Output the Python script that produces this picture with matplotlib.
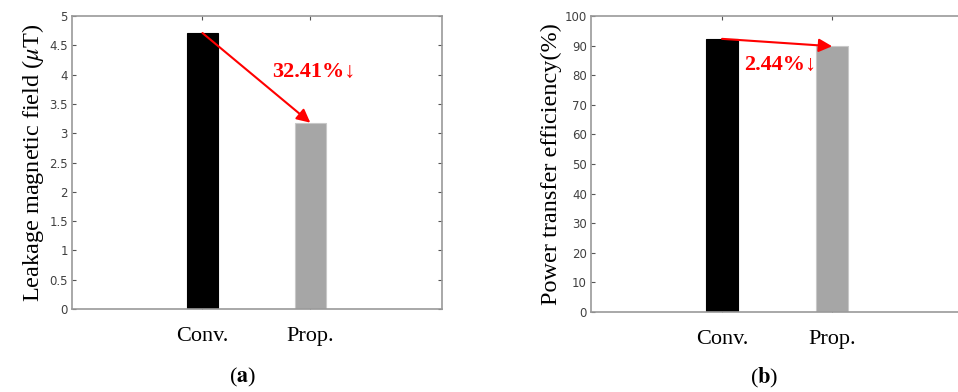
import numpy as np
import matplotlib.pyplot as plt

plt.rcParams['mathtext.fontset'] = 'stix'

cats = ["Conv.", "Prop."]
leak = [4.71, 3.18]          # uT
eff = [92.3, 89.8]           # %
leak_note = "32.41%\u2193"
eff_note = "2.44%\u2193"
bar_colors = ["#000000", "#a6a6a6"]

serif = ['Liberation Serif', 'DejaVu Serif']
spine_c = "#9a9a9a"

fig = plt.figure(figsize=(9.58, 3.92), dpi=100)
ax1 = fig.add_axes([0.0752, 0.2117, 0.386, 0.7474])
ax2 = fig.add_axes([0.617, 0.204, 0.401, 0.755])


def style(ax, ylabel, yticks, ylim, xlim):
    x = np.arange(1, len(cats) + 1)
    ax.set_xlim(xlim)
    ax.set_ylim(ylim)
    ax.set_yticks(yticks)
    ax.set_yticklabels([("%g" % t) for t in yticks])
    ax.set_xticks(x)
    ax.set_xticklabels(cats, fontsize=16, family=serif)
    for s in ax.spines.values():
        s.set_color(spine_c)
        s.set_linewidth(1.2)
    ax.tick_params(axis='y', direction='in', right=True, length=3,
                   color="#555555", labelsize=8.5, labelcolor="#404040", pad=3)
    ax.tick_params(axis='x', direction='in', top=True, length=3,
                   color="#555555", pad=13)
    ax.set_ylabel(ylabel, fontsize=17.5, family=serif, labelpad=2)
    return x


x = style(ax1, r"Leakage magnetic field ($\mu$T)", np.arange(0, 5.01, 0.5),
          (0, 5), (-0.21, 3.22))
ax1.bar(x, leak, width=0.29, color=bar_colors, edgecolor=["#000000", "#c8c8c8"],
        linewidth=0.8, zorder=2)
ax1.annotate("", xy=(x[1], leak[1]), xytext=(x[0], leak[0]),
             arrowprops=dict(arrowstyle="-|>", color="red", lw=1.5,
                             mutation_scale=20, shrinkA=0, shrinkB=0), zorder=3)
ax1.text(1.65, 4.04, leak_note, color="red", fontsize=16, fontweight='bold',
         family=serif, ha='left', va='center')
ax1.text(0.46, -0.235, r"($\mathbf{a}$)", transform=ax1.transAxes, fontsize=16,
         family=serif, ha='center', va='center')

x = style(ax2, "Power transfer efficiency(%)", np.arange(0, 101, 10),
          (0, 100), (-0.19, 3.3))
ax2.bar(x, eff, width=0.29, color=bar_colors, edgecolor=["#000000", "#c8c8c8"],
        linewidth=0.8, zorder=2)
ax2.annotate("", xy=(x[1], eff[1]), xytext=(x[0], eff[0]),
             arrowprops=dict(arrowstyle="-|>", color="red", lw=1.5,
                             mutation_scale=20, shrinkA=0, shrinkB=0), zorder=3)
ax2.text(1.2, 83.5, eff_note, color="red", fontsize=16, fontweight='bold',
         family=serif, ha='left', va='center')
ax2.text(0.45, -0.223, r"($\mathbf{b}$)", transform=ax2.transAxes, fontsize=16,
         family=serif, ha='center', va='center')

fig.savefig("out.png", dpi=100)
